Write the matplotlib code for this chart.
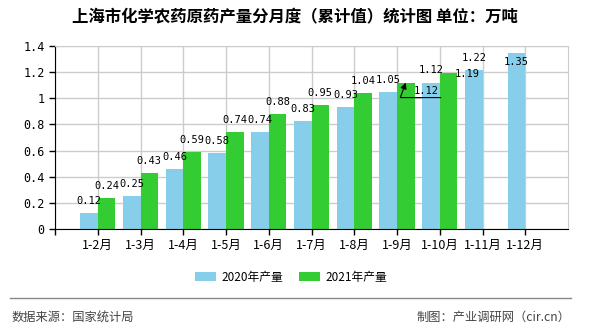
import numpy as np
import matplotlib
matplotlib.use('Agg')
import matplotlib.pyplot as plt

plt.rcParams['font.family'] = ['Noto Sans CJK SC', 'DejaVu Sans']

months = ['1-2月', '1-3月', '1-4月', '1-5月', '1-6月', '1-7月',
          '1-8月', '1-9月', '1-10月', '1-11月', '1-12月']
prod_2020 = [0.12, 0.25, 0.46, 0.58, 0.74, 0.83, 0.93, 1.05, 1.12, 1.22, 1.35]
prod_2021 = [0.24, 0.43, 0.59, 0.74, 0.88, 0.95, 1.04, 1.12, 1.19]

blue = '#87ceeb'
green = '#33cc33'
lblfont = dict(fontsize=7.5, family='DejaVu Sans Mono', ha='center', va='center')

fig = plt.figure(figsize=(5.9, 3.3), dpi=100)
ax = fig.add_axes([55/590, 1-229/330, 513/590, 183/330])

x = np.arange(len(months))
w = 0.41
b1 = ax.bar(x - w/2, prod_2020, w, color=blue, label='2020年产量', zorder=2)
x2 = x[:len(prod_2021)]
b2 = ax.bar(x2 + w/2, prod_2021, w, color=green, label='2021年产量', zorder=2)

# value labels, offsets in pixels; a few shifted like the original
off1 = [(0, 12)] * len(prod_2020)
off1[8] = (0, 13)
off1[10] = (0, -9)
off2 = [(0, 12)] * len(prod_2021)
off2[7] = (20, -8)
off2[8] = (19, -1)
for xi, v, o in zip(x - w/2, prod_2020, off1):
    ax.annotate('%g' % v, (xi, v), xytext=o, textcoords='offset pixels', **lblfont)
for xi, v, o in zip(x2 + w/2, prod_2021, off2):
    ax.annotate('%g' % v, (xi, v), xytext=o, textcoords='offset pixels', **lblfont)

# leader line for the moved 1-9 label
ax.annotate('', (x2[7] + w/2, prod_2021[7]), xytext=(35, -15),
            textcoords='offset pixels',
            arrowprops=dict(arrowstyle='-|>', color='black', lw=0.8,
                            connectionstyle='angle,angleA=0,angleB=70,rad=0',
                            shrinkA=0, shrinkB=0, mutation_scale=9))

ax.set_xlim(-1, 11)
ax.set_ylim(0, 1.4)
ax.set_yticks(np.arange(0, 1.41, 0.2))
ax.set_yticklabels(['0', '0.2', '0.4', '0.6', '0.8', '1', '1.2', '1.4'],
                   family='DejaVu Sans Mono', fontsize=8.5)
ax.set_xticks(np.concatenate([[-1], x]))
ax.set_xticklabels([''] + months, fontsize=9)
ax.tick_params(axis='x', length=4, width=1)
ax.tick_params(axis='y', length=4, width=1)
ax.grid(True, color='#cccccc', lw=1, zorder=0)
ax.spines['top'].set_color('#cccccc')
ax.spines['right'].set_color('#cccccc')
ax.spines['left'].set_color('black')
ax.spines['bottom'].set_color('black')

fig.text(295/590, 1-17/330, '上海市化学农药原药产量分月度（累计值）统计图 单位：万吨',
         ha='center', va='center', fontsize=11.8, fontweight='bold')

fig.legend(handles=[b1, b2], loc='center', bbox_to_anchor=(291/590, 1-277/330),
           ncol=2, frameon=False, fontsize=8.5, handlelength=1.8, handleheight=0.8,
           columnspacing=1.3, handletextpad=0.45)

fig.add_artist(plt.Line2D([10/590, 571/590], [1-298/330, 1-298/330],
                          color='#888888', lw=1))
fig.text(12/590, 1-317/330, '数据来源：国家统计局', ha='left', va='center',
         fontsize=8.8, color='#444444')
fig.text(570/590, 1-317/330, '制图：产业调研网（cir.cn）', ha='right', va='center',
         fontsize=8.8, color='#444444')

fig.savefig('out.png', dpi=100)
